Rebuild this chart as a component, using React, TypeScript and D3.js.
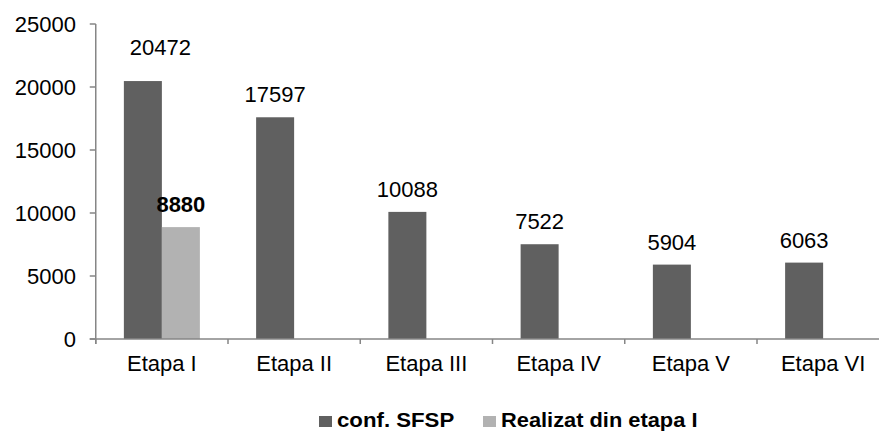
import React from "react";
import * as d3 from "d3";

const categories = ["Etapa I", "Etapa II", "Etapa III", "Etapa IV", "Etapa V", "Etapa VI"];
const seriesNames = ["conf. SFSP", "Realizat din etapa I"];
const confSFSP = [20472, 17597, 10088, 7522, 5904, 6063];
const realizat: (number | null)[] = [8880, null, null, null, null, null];
const yTicks = [0, 5000, 10000, 15000, 20000, 25000];
const colors = ["#606060", "#b2b2b2"];

const W = 879;
const H = 432;
const FONT = "'Liberation Sans', Arial, sans-serif";

export default function App() {
  const x0 = 95.75;
  const x = d3.scaleBand<string>().domain(categories).range([x0, x0 + 132.25 * 6]).padding(0);
  const xs = d3.scaleBand<string>().domain(seriesNames).range([0, x.bandwidth()]).paddingInner(0).paddingOuter(0.74);
  const y = d3.scaleLinear().domain([0, 25000]).range([339, 24]);
  const axisColor = "#868686";
  const series = [confSFSP, realizat];
  const fs = 22;

  return (
    <svg width={W} height={H} style={{ position: "absolute", left: 0, top: 0, background: "#fff" }} fontFamily={FONT}>
      {/* y axis */}
      <line x1={x0} x2={x0} y1={y(25000)} y2={y(0) + 5} stroke={axisColor} strokeWidth={1.5} />
      {yTicks.map((t) => (
        <g key={t}>
          <line x1={x0 - 6} x2={x0} y1={y(t)} y2={y(t)} stroke={axisColor} strokeWidth={1.5} />
          <text x={76} y={y(t)} dy="0.35em" textAnchor="end" fontSize={fs} fill="#000">
            {t}
          </text>
        </g>
      ))}
      {/* bars */}
      {series.map((vals, si) =>
        categories.map((c, i) => {
          const v = vals[i];
          if (v == null) return null;
          const bx = (x(c) as number) + (xs(seriesNames[si]) as number);
          return (
            <rect key={si + "-" + c} x={bx} y={y(v)} width={xs.bandwidth()} height={y(0) - y(v)} fill={colors[si]} />
          );
        })
      )}
      {/* x axis */}
      <line x1={x0 - 6} x2={W} y1={y(0)} y2={y(0)} stroke={axisColor} strokeWidth={1.5} />
      {d3.range(categories.length + 1).map((i) => {
        const tx = x0 + x.step() * i;
        return <line key={i} x1={tx} x2={tx} y1={y(0)} y2={y(0) + 5} stroke={axisColor} strokeWidth={1.5} />;
      })}
      {categories.map((c) => (
        <text key={c} x={(x(c) as number) + x.bandwidth() / 2} y={371} textAnchor="middle" fontSize={fs} fill="#000">
          {c}
        </text>
      ))}
      {/* value labels */}
      {series.map((vals, si) =>
        categories.map((c, i) => {
          const v = vals[i];
          if (v == null) return null;
          let cx = (x(c) as number) + (xs(seriesNames[si]) as number) + xs.bandwidth() / 2;
          let by = y(v) - 15;
          if (si === 0 && i === 0) {
            cx += 17.5;
            by = y(v) - 26;
          }
          return (
            <text
              key={"l" + si + c}
              x={cx}
              y={by}
              textAnchor="middle"
              fontSize={fs}
              fontWeight={si === 1 ? "bold" : "normal"}
              fill="#000"
            >
              {v}
            </text>
          );
        })
      )}
      {/* legend */}
      <g>
        <rect x={319} y={416} width={13} height={11} fill={colors[0]} />
        <g transform="translate(337,427) scale(1.14,1)">
          <text x={0} y={0} fontSize={19.5} fontWeight="bold" fill="#000">
            {seriesNames[0]}
          </text>
        </g>
        <rect x={483} y={416} width={13} height={11} fill={colors[1]} />
        <g transform="translate(501,427) scale(1.12,1)">
          <text x={0} y={0} fontSize={19.5} fontWeight="bold" fill="#000">
            {seriesNames[1]}
          </text>
        </g>
      </g>
    </svg>
  );
}
